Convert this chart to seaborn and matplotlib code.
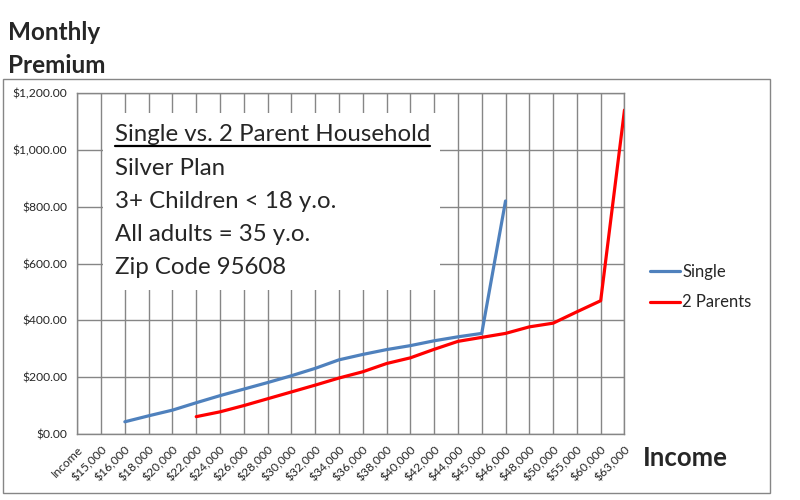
import numpy as np
import pandas as pd
import matplotlib
matplotlib.use("Agg")
import matplotlib.pyplot as plt
import matplotlib.ticker as mticker
from matplotlib.lines import Line2D
from matplotlib.patches import Rectangle
import seaborn as sns

# data
incomes = ["Income", "$15,000", "$16,000", "$18,000", "$20,000", "$22,000",
           "$24,000", "$26,000", "$28,000", "$30,000", "$32,000", "$34,000",
           "$36,000", "$38,000", "$40,000", "$42,000", "$44,000", "$45,000",
           "$46,000", "$48,000", "$50,000", "$55,000", "$60,000", "$63,000"]
single = [np.nan, np.nan, 43, 64, 84, 110, 135, 158, 181, 205, 231, 261,
          280, 297, 311, 328, 342, 354, 820, np.nan, np.nan, np.nan, np.nan, np.nan]
two_parents = [np.nan, np.nan, np.nan, np.nan, np.nan, 61, 78, 100, 124, 148,
               172, 197, 219, 248, 268, 298, 326, 340, 354, 377, 390, 430, 469, 1140]
series_names = ["Single", "2 Parents"]
info_lines = ["Silver Plan", "3+ Children < 18 y.o.", "All adults = 35 y.o.", "Zip Code 95608"]
title_line = "Single vs. 2 Parent Household"

df = pd.DataFrame({"pos": np.arange(len(incomes)), "Single": single, "2 Parents": two_parents})
long = df.melt(id_vars="pos", var_name="series", value_name="premium").dropna()

sns.set_style("white")
plt.rcParams["font.family"] = ["Lato", "DejaVu Sans"]

fig = plt.figure(figsize=(8, 5), dpi=100)
ax = fig.add_axes([0.0966, 0.132, 0.684, 0.682])

grid_c = "#868686"
sns.lineplot(data=long, x="pos", y="premium", hue="series", hue_order=series_names,
             palette=["#4F81BD", "#FF0000"], linewidth=2.3, ax=ax, zorder=3)

ax.set_xlim(0, len(incomes) - 1)
ax.set_ylim(0, 1200)
ax.set_xticks(np.arange(len(incomes)))
ax.set_xticklabels(incomes, rotation=45, ha="right", rotation_mode="anchor", fontsize=8.7)
ax.set_yticks(np.arange(0, 1201, 200))
ax.yaxis.set_major_formatter(mticker.StrMethodFormatter("${x:,.2f}"))
ax.tick_params(axis="y", labelsize=8.7)
ax.tick_params(axis="both", direction="out", length=5, width=1, color=grid_c, pad=2)
ax.set_xlabel("")
ax.set_ylabel("")
ax.grid(True, color=grid_c, linewidth=1)
ax.set_axisbelow(True)
for s in ax.spines.values():
    s.set_color(grid_c)
    s.set_linewidth(1)

ax.legend(loc="center left", bbox_to_anchor=(1.02, 0.43), frameon=False, fontsize=12,
          handlelength=1.75, handletextpad=0.15, labelspacing=0.85)

# text box
ax.add_patch(Rectangle((0.047, 0.422), 0.616, 0.52, transform=ax.transAxes,
                       facecolor="white", edgecolor="none", zorder=2))
t0 = ax.text(0.069, 0.877, title_line, transform=ax.transAxes, fontsize=17.3,
             va="center", ha="left", zorder=4)
for i, line in enumerate(info_lines):
    ax.text(0.069, 0.780 - i * 0.097, line, transform=ax.transAxes, fontsize=17.3,
            va="center", ha="left", zorder=4)

fig.text(0.01, 0.958, "Monthly\nPremium", fontsize=17.5, fontweight="bold",
         va="top", ha="left", linespacing=1.55)
fig.text(0.803, 0.084, "Income", fontsize=18.5, fontweight="bold", va="center", ha="left")

# chart area border
fig.add_artist(Rectangle((3 / 800, 7 / 500), 767 / 800, 414 / 500, transform=fig.transFigure,
                         facecolor="none", edgecolor=grid_c, linewidth=1))

# underline for the text box heading
fig.canvas.draw()
bb = t0.get_window_extent().transformed(fig.transFigure.inverted())
fig.add_artist(Line2D([bb.x0, bb.x1], [bb.y0 - 0.002, bb.y0 - 0.002],
                      transform=fig.transFigure, color="black", linewidth=1.6))

fig.savefig("out.png", dpi=100)
